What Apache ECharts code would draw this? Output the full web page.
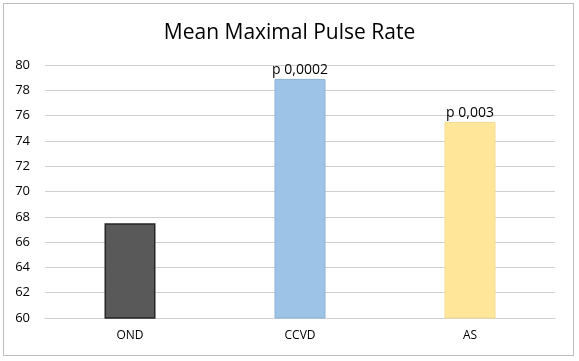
<!DOCTYPE html>
<html><head><meta charset="utf-8">
<script src="https://cdn.jsdelivr.net/npm/echarts@6/dist/echarts.min.js"></script>
<style>
html,body{margin:0;padding:0;background:#fff;}
#wrap{position:absolute;left:3px;top:3px;width:571px;height:353px;border:1px solid #bfbfbf;box-sizing:border-box;}
#c{position:absolute;left:0;top:0;width:579px;height:361px;}
</style></head>
<body>
<div id="wrap"></div>
<div id="c"></div>
<script>
const categories = ['OND', 'CCVD', 'AS'];
const values = [67.5, 78.9, 75.5];
const pLabels = ['', 'p 0,0002', 'p 0,003'];
const colors = ['#595959', '#9DC3E6', '#FFE699'];
const borders = ['#262626', '#8DB3D8', '#F5DC90'];
const title = 'Mean Maximal Pulse Rate';

const chart = echarts.init(document.getElementById('c'), null, {renderer: 'canvas'});
chart.setOption({
  animation: false,
  title: {text: title, left: 'center', top: 18,
    textStyle: {fontFamily: 'Open Sans', fontWeight: 'normal', fontSize: 21, color: '#000'}},
  grid: {left: 45, right: 24, top: 65, bottom: 43},
  xAxis: {type: 'category', data: categories,
    axisLine: {show: true, lineStyle: {color: '#d0d0d0'}}, axisTick: {show: false},
    axisLabel: {color: '#000', fontFamily: 'Open Sans', fontSize: 12, margin: 12}},
  yAxis: {type: 'value', min: 60, max: 80, interval: 2,
    axisLine: {show: false}, axisTick: {show: false},
    splitLine: {lineStyle: {color: '#d0d0d0', width: 1}},
    axisLabel: {color: '#000', fontFamily: 'Open Sans', fontSize: 13, margin: 15,
      align: 'right'}},
  series: [{type: 'bar', barWidth: '30%',
    data: values.map((v, i) => ({value: v,
      itemStyle: {color: colors[i], borderColor: borders[i], borderWidth: i === 0 ? 1.5 : 1},
      label: {show: pLabels[i] !== '', formatter: pLabels[i]}})),
    label: {position: 'top', distance: 2, color: '#000', fontFamily: 'Open Sans', fontSize: 14}
  }]
});
</script>
</body></html>
